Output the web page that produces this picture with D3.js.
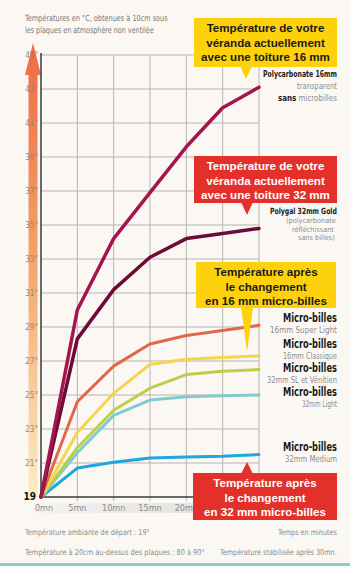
<!DOCTYPE html>
<html>
<head>
<meta charset="utf-8">
<script src="https://cdn.jsdelivr.net/npm/d3@7"></script>
<style>
  html, body { margin: 0; padding: 0; background: #fbf8f4; }
  svg { display: block; }
  .narrow { font-family: "Liberation Sans Narrow", "DejaVu Sans Condensed", "Liberation Sans", sans-serif; }
  .box-text { font-family: "Liberation Sans", Arial, sans-serif; font-weight: bold; font-size: 11.6px; }
</style>
</head>
<body>
<svg></svg>
<script>
const width = 350;
const height = 566;

// data
const minutes = [0, 5, 10, 15, 20, 25, 30];
const poly16 = [19, 30, 34.2, 36.9, 39.6, 41.9, 43.1];
const polygal32 = [19, 28.3, 31.2, 33.1, 34.2, 34.5, 34.8];
const superLight16 = [19, 24.6, 26.7, 28.0, 28.5, 28.8, 29.1];
const classique16 = [19, 22.8, 25.1, 26.8, 27.1, 27.2, 27.3];
const slVenitien32 = [19, 21.9, 24.1, 25.4, 26.2, 26.4, 26.5];
const light32 = [19, 21.6, 23.8, 24.7, 24.9, 24.95, 25.0];
const medium32 = [19, 20.7, 21.05, 21.3, 21.35, 21.4, 21.5];

const yTicks = [19, 21, 23, 25, 27, 29, 31, 33, 35, 37, 39, 41, 43, 45];
// 25mn and 30mn are hidden under the red box in the original
const xTickLabels = ["0mn", "5mn", "10mn", "15mn", "20mn"];

const series = [
    { values: medium32, color: "#1ea6dd" },
    { values: light32, color: "#80cbd0" },
    { values: slVenitien32, color: "#bccf48" },
    { values: classique16, color: "#f4d54c" },
    { values: superLight16, color: "#e2664b" },
    { values: polygal32, color: "#6c0b38" },
    { values: poly16, color: "#a3154f" }
];

const svg = d3.select("svg")
    .attr("width", width)
    .attr("height", height);

const x = d3.scaleLinear().domain([0, 30]).range([41, 259]);
const y = d3.scaleLinear().domain([19, 45]).range([497, 55]);

// squeeze a text horizontally to the width it has in the original
function fit(sel, w) {
    const x0 = +sel.attr("x");
    const natural = sel.node().getComputedTextLength();
    const k = Math.min(1, w / natural);
    return sel.attr("transform", `translate(${x0},0) scale(${k},1) translate(${-x0},0)`);
}

const defs = svg.append("defs");
const arrowGrad = defs.append("linearGradient")
    .attr("id", "arrowGrad")
    .attr("x1", 0).attr("y1", 0).attr("x2", 0).attr("y2", 1);
arrowGrad.append("stop").attr("offset", "0%").attr("stop-color", "#ee6a45");
arrowGrad.append("stop").attr("offset", "45%").attr("stop-color", "#f3a066");
arrowGrad.append("stop").attr("offset", "100%").attr("stop-color", "#fdedc4");

const bandGrad = defs.append("linearGradient")
    .attr("id", "bandGrad")
    .attr("x1", 0).attr("y1", 0).attr("x2", 1).attr("y2", 0);
bandGrad.append("stop").attr("offset", "0%").attr("stop-color", "#f4f3f1");
bandGrad.append("stop").attr("offset", "100%").attr("stop-color", "#dcdcdc");

// title
fit(svg.append("text")
    .attr("class", "narrow")
    .attr("x", 25).attr("y", 21)
    .attr("font-size", 8.5)
    .attr("fill", "#7a7a7a")
    .text("Températures en °C, obtenues à 10cm sous"), 143);
fit(svg.append("text")
    .attr("class", "narrow")
    .attr("x", 25).attr("y", 33)
    .attr("font-size", 8.5)
    .attr("fill", "#7a7a7a")
    .text("les plaques en atmosphère non ventilée"), 129);

// arrow on the left
const ax = 33;
svg.append("path")
    .attr("d", `M${ax - 4.5},${y(19)} L${ax - 4.5},75 L${ax - 8},75 L${ax},43 L${ax + 8},75 L${ax + 4.5},75 L${ax + 4.5},${y(19)} Z`)
    .attr("fill", "url(#arrowGrad)");

// x label band
svg.append("rect")
    .attr("x", 34)
    .attr("y", 503)
    .attr("width", 232)
    .attr("height", 10)
    .attr("fill", "url(#bandGrad)");

// grid
const grid = svg.append("g");
grid.selectAll(".hgrid")
    .data(yTicks.slice(1))
    .enter().append("line")
    .attr("x1", x(0))
    .attr("x2", x(30))
    .attr("y1", d => y(d))
    .attr("y2", d => y(d))
    .attr("stroke", "#b5b3b0")
    .attr("stroke-width", 1);
grid.selectAll(".vgrid")
    .data(minutes.slice(1))
    .enter().append("line")
    .attr("x1", d => x(d))
    .attr("x2", d => x(d))
    .attr("y1", y(45))
    .attr("y2", y(19) + 4)
    .attr("stroke", "#b5b3b0")
    .attr("stroke-width", 1);

// axes lines
svg.append("line")
    .attr("x1", x(0)).attr("x2", x(0))
    .attr("y1", y(45) - 2).attr("y2", y(19))
    .attr("stroke", "#3a3a3a").attr("stroke-width", 1.5);
svg.append("line")
    .attr("x1", x(0)).attr("x2", x(30))
    .attr("y1", y(19)).attr("y2", y(19))
    .attr("stroke", "#3a3a3a").attr("stroke-width", 1.5);

// y tick labels
svg.selectAll(".ytick")
    .data(yTicks)
    .enter().append("text")
    .attr("class", "narrow")
    .attr("x", d => d === 19 ? 36 : 38)
    .attr("y", d => y(d) + 3)
    .attr("text-anchor", "end")
    .attr("font-size", d => d === 19 ? 10 : 8)
    .attr("font-weight", d => d === 19 ? "bold" : "normal")
    .attr("fill", d => d === 19 ? "#111" : "#8a8a8a")
    .text(d => d === 19 ? "19" : d + "°");

// x tick labels
svg.selectAll(".xtick")
    .data(xTickLabels)
    .enter().append("text")
    .attr("class", "narrow")
    .attr("x", (d, i) => x(minutes[i]) + (i === 0 ? 3 : 0))
    .attr("y", 511)
    .attr("text-anchor", "middle")
    .attr("font-size", 9)
    .attr("fill", "#8a8a8a")
    .text(d => d);

// series lines
const line = d3.line()
    .x((d, i) => x(minutes[i]))
    .y(d => y(d));

svg.selectAll(".series")
    .data(series)
    .enter().append("path")
    .attr("d", d => line(d.values))
    .attr("fill", "none")
    .attr("stroke", d => d.color)
    .attr("stroke-width", d => d.values === poly16 || d.values === polygal32 ? 3.5 : 3)
    .attr("stroke-linejoin", "round")
    .attr("stroke-linecap", "round");

// right-aligned label squeezed to width w, ending at x = 337
const rightEdge = 337;
function rightText(txt, yy, w, size, bold) {
    return fit(svg.append("text")
        .attr("class", "narrow")
        .attr("x", rightEdge - w).attr("y", yy)
        .attr("font-size", size)
        .attr("font-weight", bold ? "bold" : "normal")
        .attr("fill", bold ? "#1a1a1a" : "#8d8d8d")
        .text(txt), w);
}

rightText("Polycarbonate 16mm", 77, 74, 9, true);
rightText("transparent", 89, 40, 9, false);
const sansT = svg.append("text")
    .attr("class", "narrow")
    .attr("x", rightEdge - 59).attr("y", 101)
    .attr("font-size", 9);
sansT.append("tspan").attr("font-weight", "bold").attr("fill", "#1a1a1a").text("sans");
sansT.append("tspan").attr("fill", "#8d8d8d").text(" microbilles");
fit(sansT, 59);

rightText("Polygal 32mm Gold", 214, 67, 8.5, true);
rightText("(polycarbonate", 223, 51, 7.3, false);
rightText("réfléchissant", 231.6, 45, 7.3, false);
rightText("sans billes)", 240.2, 39, 7.3, false);

const microLabels = [
    { sub: "16mm Super Light", y: 322, w: 67 },
    { sub: "16mm Classique", y: 348, w: 54 },
    { sub: "32mm SL et Vénitien", y: 372, w: 70 },
    { sub: "32mm Light", y: 396, w: 35 },
    { sub: "32mm Medium", y: 451, w: 52 }
];
microLabels.forEach(m => {
    rightText("Micro-billes", m.y, 54, 12.5, true);
    rightText(m.sub, m.y + 11, m.w, 9, false);
});

// callout boxes
const callouts = [
    { lines: ["Température de votre", "véranda actuellement", "avec une toiture 16 mm"],
      x0: 194, x1: 337, y0: 18, y1: 67, tipX: 246, tipY: 79, fill: "#fdd20c", text: "#1a1a1a" },
    { lines: ["Température de votre", "véranda actuellement", "avec une toiture 32 mm"],
      x0: 194, x1: 337, y0: 156, y1: 203, tipX: 247, tipY: 215, fill: "#e3302a", text: "#ffffff" },
    { lines: ["Température après", "le changement", "en 16 mm micro-billes"],
      x0: 196, x1: 336, y0: 262, y1: 308, tipX: 247, tipY: 352, fill: "#fdd20c", text: "#1a1a1a" },
    { lines: ["Température après", "le changement", "en 32 mm micro-billes"],
      x0: 193, x1: 337, y0: 473, y1: 520, tipX: 247, tipY: 462, fill: "#e3302a", text: "#ffffff" }
];

callouts.forEach(c => {
    const g = svg.append("g");
    g.append("rect")
        .attr("x", c.x0).attr("y", c.y0)
        .attr("width", c.x1 - c.x0).attr("height", c.y1 - c.y0)
        .attr("fill", c.fill);
    const base = c.tipY > c.y1 ? c.y1 - 1 : c.y0 + 1;
    g.append("path")
        .attr("d", `M${c.tipX - 6},${base} L${c.tipX},${c.tipY} L${c.tipX + 6},${base} Z`)
        .attr("fill", c.fill);
    const cx = (c.x0 + c.x1) / 2;
    const t = g.append("text")
        .attr("class", "box-text")
        .attr("text-anchor", "middle")
        .attr("fill", c.text);
    c.lines.forEach((l, i) => {
        t.append("tspan")
            .attr("x", cx)
            .attr("y", c.y0 + 14 + i * 14.5)
            .text(l);
    });
});

// footer texts
const foot = [
    { text: "Température ambiante de départ : 19°", x: 25, y: 535, w: 125 },
    { text: "Temps en minutes", x: 337 - 59, y: 535, w: 59 },
    { text: "Température à 20cm au-dessus des plaques : 80 à 90°", x: 25, y: 555, w: 180 },
    { text: "Température stabilisée après 30mn.", x: 337 - 117, y: 555, w: 117 }
];
foot.forEach(f => {
    fit(svg.append("text")
        .attr("class", "narrow")
        .attr("x", f.x)
        .attr("y", f.y)
        .attr("font-size", 8)
        .attr("fill", "#8a8a8a")
        .text(f.text), f.w);
});

svg.append("rect")
    .attr("x", 0).attr("y", 563)
    .attr("width", width).attr("height", 3)
    .attr("fill", "#8ccbd6");
</script>
</body>
</html>
